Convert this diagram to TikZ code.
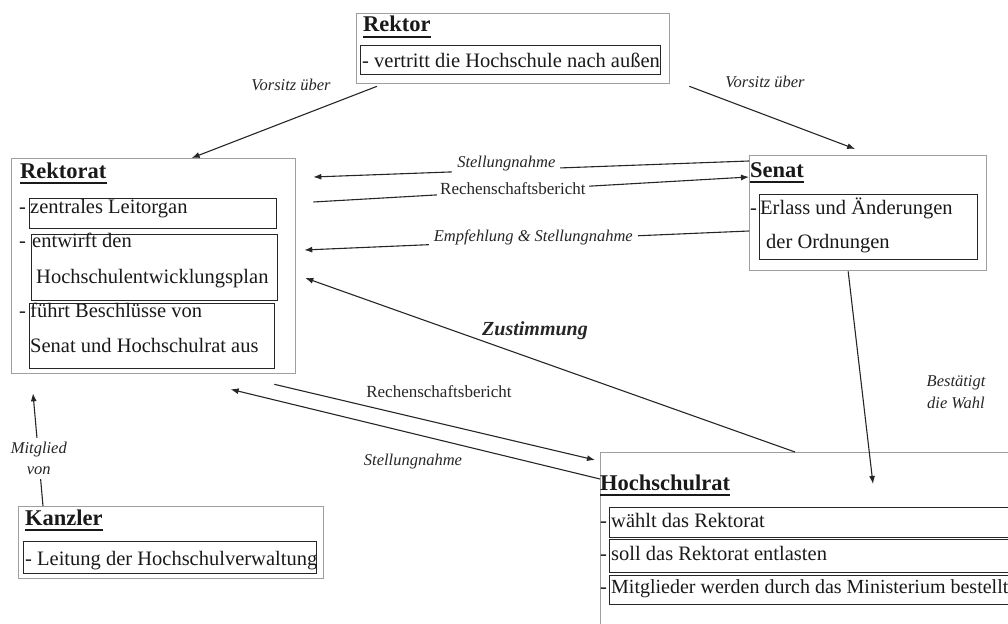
\documentclass[tikz,border=0pt]{standalone}
\usepackage{fontspec}
\setmainfont{Liberation Serif}
\usetikzlibrary{arrows.meta}

\tikzset{
  orgbox/.style={draw=gray!75, line width=1.3pt, anchor=north west, inner sep=0pt},
  itembox/.style={draw=black!85, line width=1.4pt, anchor=north west, inner sep=0pt},
  txt/.style={anchor=base west, inner sep=0pt, text=black!90, font=\fontsize{20.5}{24}\selectfont},
  head/.style={anchor=base west, inner sep=0pt, text=black!90, font=\fontsize{22.5}{26}\selectfont\bfseries},
  lbl/.style={inner sep=0pt, text=black!85, font=\fontsize{16.5}{21}\selectfont\itshape},
  plainlbl/.style={inner sep=0pt, text=black!85, font=\fontsize{17}{21}\selectfont},
  link/.style={draw=black!85, line width=1.1pt, -{Latex[length=8pt,width=6pt]}},
  ul/.style={draw=black!90, line width=1.8pt},
}

\begin{document}
\begin{tikzpicture}[x=1pt,y=-1pt]
    \useasboundingbox (0,0) rectangle (1008,623);
    \clip (0,0) rectangle (1008,623);

    % outer boxes
    \node[orgbox, minimum width=313pt, minimum height=70pt]  (rektor)   at (356,13)  {};
    \node[orgbox, minimum width=284pt, minimum height=215pt] (rektorat) at (11,158)  {};
    \node[orgbox, minimum width=237pt, minimum height=115pt] (senat)    at (749,155) {};
    \node[orgbox, minimum width=420pt, minimum height=190pt] (hsr)      at (600,452) {};
    \node[orgbox, minimum width=305pt, minimum height=72pt]  (kanzler)  at (18,506)  {};

    % item boxes
    \foreach \n/\x/\y/\w/\h in {rk0/360/45/300/29, ra1/29/198/247/30, ra2/31/234/246/66,
        ra3/29/303/245/65, se1/759/194/218/65, hr1/609/507/420/30, hr2/609/539/420/33,
        hr3/609/575/420/29, ka1/23/541/293/32}
    {
        \node[itembox, minimum width=\w pt, minimum height=\h pt] (\n) at (\x,\y) {};
    }

    % titles
    \node[head] (rektor-t)   at (363,32)  {Rektor};
    \node[head] (rektorat-t) at (20,178)  {Rektorat};
    \node[head] (senat-t)    at (750,177) {Senat};
    \node[head] (hsr-t)      at (600,490) {Hochschulrat};
    \node[head] (kanzler-t)  at (25,525)  {Kanzler};
    \foreach \t in {rektor-t,rektorat-t,senat-t,hsr-t,kanzler-t}
        \draw[ul] ([yshift=-5pt]\t.base west) -- ([yshift=-5pt]\t.base east);

    % texts
    \node[txt] (rk0-a) at (362,68) {- vertritt die Hochschule nach außen};

    \node[txt] (ra1-d) at (19,213) {-};
    \node[txt] (ra1-a) at (30,213) {zentrales Leitorgan};
    \node[txt] (ra2-d) at (19,247) {-};
    \node[txt] (ra2-a) at (32,247) {entwirft den};
    \node[txt] (ra2-b) at (36,283) {Hochschulentwicklungsplan};
    \node[txt] (ra3-d) at (19,317) {-};
    \node[txt] (ra3-a) at (30,317) {führt Beschlüsse von};
    \node[txt] (ra3-b) at (30,352) {Senat und Hochschulrat aus};

    \node[txt] (se1-d) at (750,214) {-};
    \node[txt] (se1-a) at (760,214) {Erlass und Änderungen};
    \node[txt] (se1-b) at (766,248) {der Ordnungen};

    \node[txt] (hr1-d) at (600,527) {-};
    \node[txt] (hr1-a) at (611,527) {wählt das Rektorat};
    \node[txt] (hr2-d) at (600,560) {-};
    \node[txt] (hr2-a) at (611,560) {soll das Rektorat entlasten};
    \node[txt] (hr3-d) at (600,593) {-};
    \node[txt, font=\fontsize{20}{24}\selectfont] (hr3-a) at (611,593) {Mitglieder werden durch das Ministerium bestellt};

    \node[txt] (ka1-a) at (25,565) {- Leitung der Hochschulverwaltung};

    % connectors
    \draw[link] ([xshift=21pt,yshift=-2pt]rektor.south west) -- ([xshift=38pt]rektorat.north);
    \draw[link] ([xshift=19pt,yshift=-2pt]rektor.south east) -- ([xshift=-13pt,yshift=6pt]senat.north);
    \draw[link] ([yshift=-6pt]senat.north west)
        -- node[lbl, pos=0.557, fill=white, inner xsep=5pt, inner ysep=2pt, yshift=6pt] (st1) {Stellungnahme}
        ([xshift=17pt,yshift=-19pt]rektorat.north east);
    \draw[link] ([xshift=17pt,yshift=-44pt]rektorat.north east)
        -- node[plainlbl, pos=0.458, fill=white, inner xsep=3pt, inner ysep=2pt, yshift=2pt] (rb1) {Rechenschaftsbericht}
        ([yshift=-22pt]senat.north west);
    \draw[link] ([yshift=-76pt]senat.north west)
        -- node[lbl, pos=0.485, fill=white, inner xsep=5pt, inner ysep=2pt, yshift=3pt] (emp) {Empfehlung \& Stellungnahme}
        ([xshift=8pt,yshift=-92pt]rektorat.north east);
    \draw[link] ([xshift=195pt]hsr.north west) -- ([xshift=9pt,yshift=-120pt]rektorat.north east);
    \draw[link] ([xshift=-22pt,yshift=-10pt]rektorat.south east) -- ([xshift=-5pt,yshift=-8pt]hsr.north west);
    \draw[link] ([yshift=-27pt]hsr.north west) -- ([xshift=77pt,yshift=-15pt]rektorat.south);
    \draw[link] ([xshift=-20pt]senat.south) -- ([xshift=273pt,yshift=-32pt]hsr.north west);
    \draw[link] ([xshift=25pt]kanzler.north west)
        -- node[lbl, pos=0.42, fill=white, align=center, inner xsep=2pt, inner ysep=4pt] (mitgl) {Mitglied\\von}
        ([xshift=22pt,yshift=-19pt]rektorat.south west);

    % labels
    \node[lbl, anchor=base] (vors1) at (291,91) {Vorsitz über};
    \node[lbl, anchor=base] (vors2) at (765,88) {Vorsitz über};
    \node[lbl, anchor=base, font=\fontsize{20}{24}\selectfont\bfseries\itshape] (zust) at (535,335) {Zustimmung};
    \node[plainlbl, anchor=base] (rb2) at (439,397) {Rechenschaftsbericht};
    \node[lbl, anchor=base] (st2) at (413,465) {Stellungnahme};
    \node[lbl, anchor=base, align=center, font=\fontsize{16.5}{22}\selectfont\itshape] (best) at (956,408) {Bestätigt\\die Wahl};
\end{tikzpicture}
\end{document}
